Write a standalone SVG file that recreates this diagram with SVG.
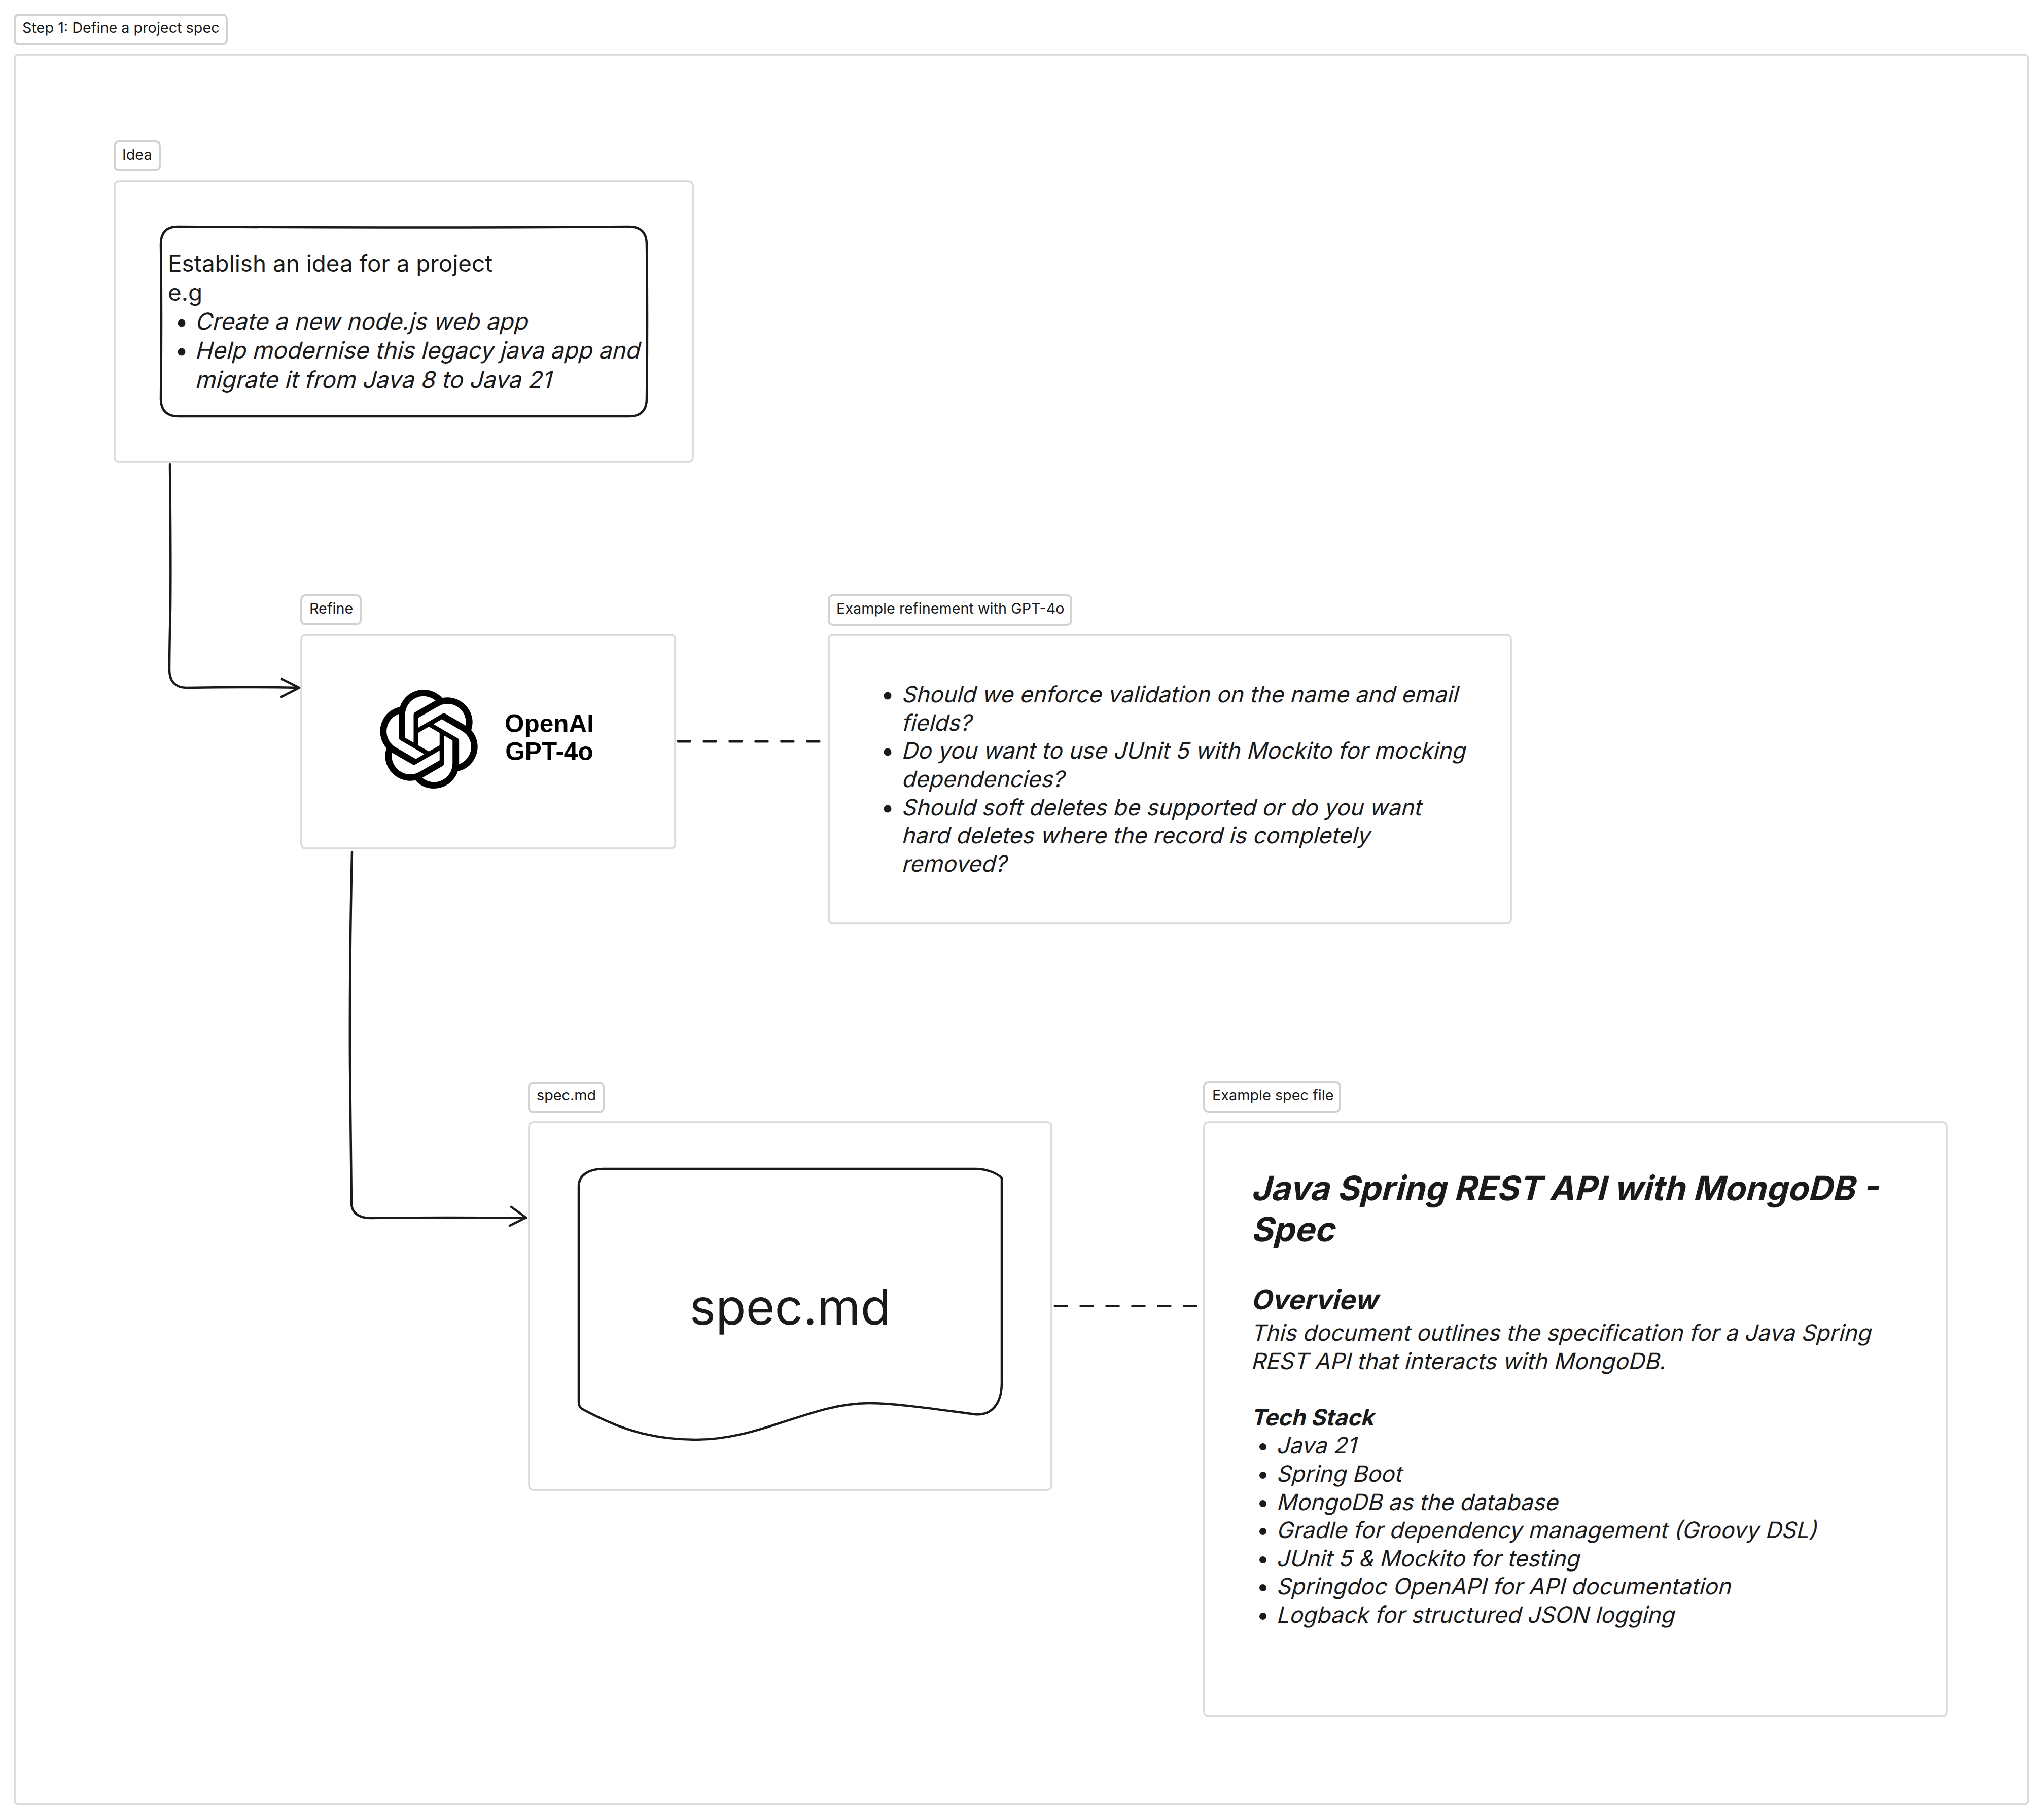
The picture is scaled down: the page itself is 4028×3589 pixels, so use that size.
<svg xmlns="http://www.w3.org/2000/svg" width="4028" height="3589" viewBox="0 0 4028 3589">
<style>
text{font-family:Inter,"Liberation Sans",sans-serif;fill:#1a1a1a}
.frame{fill:#fff;stroke:#d9d9dc;stroke-width:3.5}
.label{fill:#fff;stroke:#d2d2d2;stroke-width:4}
.lt{font-size:28.8px}
.sk{fill:none;stroke:#1a1a1a;stroke-width:4.5;stroke-linecap:round;stroke-linejoin:round}
.dash{fill:none;stroke:#1a1a1a;stroke-width:5;stroke-linecap:round;stroke-dasharray:23.5 27.4}
.b{font-size:45.8px}
.i{font-size:45.8px}
.s{font-size:44.5px}
.dot{fill:#1a1a1a}
</style>
<rect width="4028" height="3589" fill="#fff"/>
<g id="step1">
<rect class="frame" x="29" y="108" width="3970" height="3450" rx="8"/>
<rect class="label" x="29" y="29" width="418" height="58" rx="8"/>
<text class="lt" x="44" y="65">Step 1: Define a project spec</text>
</g>
<g id="idea">
<rect class="label" x="226" y="279" width="89" height="57" rx="8"/>
<text class="lt" x="241" y="315">Idea</text>
<rect class="frame" x="226" y="357" width="1140" height="554" rx="8"/>
<path class="sk" d="M350 447Q800 450 1240 447Q1275 447 1275 482Q1277 630 1275 786Q1275 821 1240 821L352 821Q317 821 317 786Q319 630 317 482Q317 447 350 447Z"/>
<text class="b" x="331" y="536">Establish an idea for a project</text>
<text class="b" x="331" y="593">e.g</text>
<circle class="dot" cx="358" cy="637" r="7.5"/>
<text class="i" transform="translate(384 650) skewX(-14)">Create a new node.js web app</text>
<circle class="dot" cx="358" cy="694" r="7.5"/>
<text class="i" transform="translate(384 707) skewX(-14)">Help modernise this legacy java app and</text>
<text class="i" transform="translate(384 765) skewX(-14)">migrate it from Java 8 to Java 21</text>
</g>
<g id="refine">
<rect class="label" x="594" y="1174" width="117" height="57" rx="8"/>
<text class="lt" x="610" y="1210">Refine</text>
<rect class="frame" x="594" y="1252" width="737" height="421" rx="8"/>
<path transform="translate(748 1360) scale(8.125)" fill="#000" d="M22.2819 9.8211a5.9847 5.9847 0 0 0-.5157-4.9108 6.0462 6.0462 0 0 0-6.5098-2.9A6.0651 6.0651 0 0 0 4.9807 4.1818a5.9847 5.9847 0 0 0-3.9977 2.9 6.0462 6.0462 0 0 0 .7427 7.0966 5.98 5.98 0 0 0 .511 4.9107 6.051 6.051 0 0 0 6.5146 2.9001A5.9847 5.9847 0 0 0 13.2599 24a6.0557 6.0557 0 0 0 5.7718-4.2058 5.9894 5.9894 0 0 0 3.9977-2.9001 6.0557 6.0557 0 0 0-.7475-7.0729zm-9.022 12.6081a4.4755 4.4755 0 0 1-2.8764-1.0408l.1419-.0804 4.7783-2.7582a.7948.7948 0 0 0 .3927-.6813v-6.7369l2.02 1.1686a.071.071 0 0 1 .038.052v5.5826a4.504 4.504 0 0 1-4.4945 4.4944zm-9.6607-4.1254a4.4708 4.4708 0 0 1-.5346-3.0137l.142.0852 4.783 2.7582a.7712.7712 0 0 0 .7806 0l5.8428-3.3685v2.3324a.0804.0804 0 0 1-.0332.0615L9.74 19.9502a4.4992 4.4992 0 0 1-6.1408-1.6464zM2.3408 7.8956a4.485 4.485 0 0 1 2.3655-1.9728V11.6a.7664.7664 0 0 0 .3879.6765l5.8144 3.3543-2.0201 1.1685a.0757.0757 0 0 1-.071 0l-4.8303-2.7865A4.504 4.504 0 0 1 2.3408 7.872zm16.5963 3.8558L13.1038 8.364 15.1192 7.2a.0757.0757 0 0 1 .071 0l4.8303 2.7913a4.4944 4.4944 0 0 1-.6765 8.1042v-5.6772a.79.79 0 0 0-.407-.667zm2.0107-3.0231l-.142-.0852-4.7735-2.7818a.7759.7759 0 0 0-.7854 0L9.409 9.2297V6.8974a.0662.0662 0 0 1 .0284-.0615l4.8303-2.7866a4.4992 4.4992 0 0 1 6.6802 4.66zM8.3065 12.863l-2.02-1.1638a.0804.0804 0 0 1-.038-.0567V6.0742a4.4992 4.4992 0 0 1 7.3757-3.4537l-.142.0805L8.704 5.459a.7948.7948 0 0 0-.3927.6813zm1.0976-2.3654l2.602-1.4998 2.6069 1.4998v2.9994l-2.5974 1.4997-2.6067-1.4997Z"/>
<text x="1083" y="1444" text-anchor="middle" style="font-family:'Liberation Sans',sans-serif;font-weight:700;font-size:49.5px;fill:#000">OpenAI</text>
<text x="1083" y="1499" text-anchor="middle" style="font-family:'Liberation Sans',sans-serif;font-weight:700;font-size:49.5px;fill:#000">GPT-4o</text>
</g>
<g id="refinement-example">
<rect class="label" x="1634" y="1174" width="478" height="58" rx="8"/>
<text class="lt" x="1649" y="1210">Example refinement with GPT-4o</text>
<rect class="frame" x="1634" y="1252" width="1345" height="569" rx="8"/>
<circle class="dot" cx="1750" cy="1372" r="7.5"/>
<text class="s" transform="translate(1777 1385) skewX(-14)">Should we enforce validation on the name and email</text>
<text class="s" transform="translate(1777 1441) skewX(-14)">fields?</text>
<circle class="dot" cx="1750" cy="1483" r="7.5"/>
<text class="s" transform="translate(1777 1496) skewX(-14)">Do you want to use JUnit 5 with Mockito for mocking</text>
<text class="s" transform="translate(1777 1552) skewX(-14)">dependencies?</text>
<circle class="dot" cx="1750" cy="1595" r="7.5"/>
<text class="s" transform="translate(1777 1608) skewX(-14)">Should soft deletes be supported or do you want</text>
<text class="s" transform="translate(1777 1663) skewX(-14)">hard deletes where the record is completely</text>
<text class="s" transform="translate(1777 1719) skewX(-14)">removed?</text>
</g>
<g id="spec">
<rect class="label" x="1043" y="2135" width="147" height="58" rx="8"/>
<text class="lt" x="1058" y="2170">spec.md</text>
<rect class="frame" x="1043" y="2213" width="1030" height="725" rx="8"/>
<path class="sk" d="M1141 2339C1141 2318 1160 2305 1190 2305L1922 2305C1945 2305 1965 2313 1975 2323L1975 2727C1975 2768 1955 2792 1922 2789C1860 2781 1770 2767 1712 2767C1600 2767 1500 2839 1372 2839C1280 2839 1215 2815 1147 2778C1142 2774 1141 2770 1141 2765Z"/>
<text x="1558" y="2612" text-anchor="middle" font-size="97.5">spec.md</text>
</g>
<g id="spec-example">
<rect class="label" x="2374" y="2134" width="268" height="58" rx="8"/>
<text class="lt" x="2390" y="2170">Example spec file</text>
<rect class="frame" x="2374" y="2213" width="1464" height="1171" rx="8"/>
<text transform="translate(2466 2367) skewX(-14)" font-size="66.5" font-weight="700">Java Spring REST API with MongoDB -</text>
<text transform="translate(2466 2448) skewX(-14)" font-size="66.5" font-weight="700">Spec</text>
<text transform="translate(2466 2582) skewX(-14)" font-size="53.5" font-weight="700">Overview</text>
<text class="s" transform="translate(2466 2644) skewX(-14)">This document outlines the specification for a Java Spring</text>
<text class="s" transform="translate(2466 2700) skewX(-14)">REST API that interacts with MongoDB.</text>
<text transform="translate(2466 2811) skewX(-14)" font-size="44.8" font-weight="700">Tech Stack</text>
<g class="dot">
<circle cx="2490" cy="2853" r="7"/><circle cx="2490" cy="2909" r="7"/><circle cx="2490" cy="2965" r="7"/><circle cx="2490" cy="3020" r="7"/><circle cx="2490" cy="3076" r="7"/><circle cx="2490" cy="3131" r="7"/><circle cx="2490" cy="3187" r="7"/>
</g>
<text class="s" transform="translate(2516 2866) skewX(-14)">Java 21</text>
<text class="s" transform="translate(2516 2922) skewX(-14)">Spring Boot</text>
<text class="s" transform="translate(2516 2978) skewX(-14)">MongoDB as the database</text>
<text class="s" transform="translate(2516 3033) skewX(-14)">Gradle for dependency management (Groovy DSL)</text>
<text class="s" transform="translate(2516 3089) skewX(-14)">JUnit 5 &amp; Mockito for testing</text>
<text class="s" transform="translate(2516 3144) skewX(-14)">Springdoc OpenAPI for API documentation</text>
<text class="s" transform="translate(2516 3200) skewX(-14)">Logback for structured JSON logging</text>
</g>
<g id="connectors">
<path class="sk" d="M335 916Q337 1100 336 1200Q334 1280 334 1322C334 1342 345 1356 368 1356Q480 1354 590 1356M556 1339L590 1356L555 1374"/>
<path class="sk" d="M694 1680Q689 1900 690 2100Q692 2250 693 2370C692 2390 705 2402 731 2402Q880 2400 1037 2402M1008 2380L1037 2401L1005 2417"/>
<path class="dash" d="M1337 1462L1616 1462"/>
<path class="dash" d="M2080 2575.5L2359 2575.5"/>
</g>
</svg>
